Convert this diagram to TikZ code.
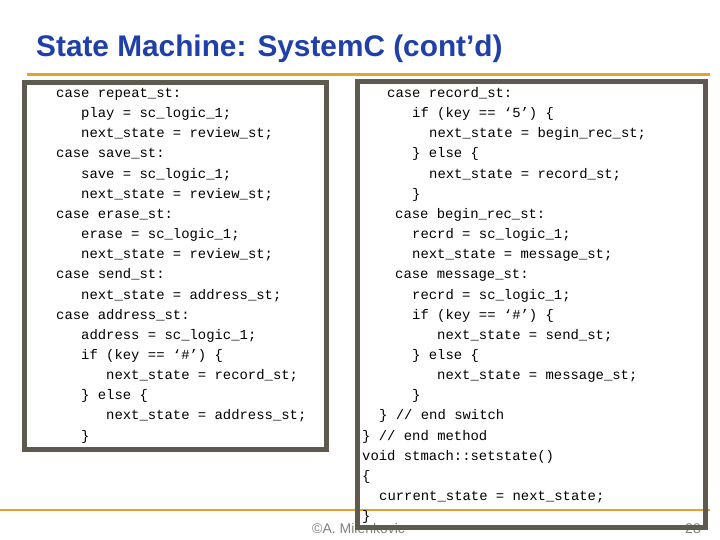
\documentclass[tikz,border=0pt]{standalone}
\usepackage{fontspec}
\setmainfont{Liberation Sans}
\newfontfamily\codefont{Liberation Mono}
\definecolor{ttl}{HTML}{1F40A8}
\definecolor{org}{HTML}{E8A030}
\definecolor{brd}{HTML}{5F5A50}
\begin{document}
\begin{tikzpicture}[x=1pt,y=-1pt,
  code/.style={anchor=base west,inner sep=0pt,font=\codefont\fontsize{13.9}{14}\selectfont},
  boxst/.style={draw=brd,line width=5pt}]
\useasboundingbox (0,0) rectangle (720,540);
\fill[white] (0,0) rectangle (720,540);
\node[anchor=base west,inner sep=0pt,text=ttl,font=\bfseries\fontsize{29.8}{32}\selectfont] (title) at (36,57) {State Machine: SystemC (cont’d)};
\fill[white] (24.5,82.5) rectangle (326.5,449.5);
\fill[white] (357.5,81.5) rectangle (705.5,527.5);
\node[anchor=base west,inner sep=0pt,text=gray,font=\fontsize{14}{14}\selectfont] (foot) at (312,533) {©A. Milenkovic};
\node[anchor=base east,inner sep=0pt,text=gray,font=\fontsize{14}{14}\selectfont] (pg) at (701,533) {28};
\coordinate (o1) at (27,75); \coordinate (o2) at (710,75);
\coordinate (o3) at (0,510); \coordinate (o4) at (710,510);
\draw[org,line width=3pt] (o1) -- (o2);
\draw[org,line width=2.5pt] (o3) -- (o4);
\draw[boxst] (24.5,82.5) rectangle (326.5,449.5);
\draw[boxst] (357.5,81.5) rectangle (705.5,527.5);
% left code
\foreach \x/\t [count=\i from 0] in {
56/{case repeat\_st:},
81/{play = sc\_logic\_1;},
81/{next\_state = review\_st;},
56/{case save\_st:},
81/{save = sc\_logic\_1;},
81/{next\_state = review\_st;},
56/{case erase\_st:},
81/{erase = sc\_logic\_1;},
81/{next\_state = review\_st;},
56/{case send\_st:},
81/{next\_state = address\_st;},
56/{case address\_st:},
81/{address = sc\_logic\_1;},
81/{if (key == ‘\#’) \{},
106/{next\_state = record\_st;},
81/{\} else \{},
106/{next\_state = address\_st;},
81/{\}}}
  \node[code] (l\i) at (\x,{97.5+20.15*\i}) {\t};
% right code
\foreach \x/\t [count=\i from 0] in {
387/{case record\_st:},
412/{if (key == ‘5’) \{},
429/{next\_state = begin\_rec\_st;},
412/{\} else \{},
429/{next\_state = record\_st;},
412/{\}},
395/{case begin\_rec\_st:},
412/{recrd = sc\_logic\_1;},
412/{next\_state = message\_st;},
395/{case message\_st:},
412/{recrd = sc\_logic\_1;},
412/{if (key == ‘\#’) \{},
437/{next\_state = send\_st;},
412/{\} else \{},
437/{next\_state = message\_st;},
412/{\}},
379/{\} // end switch},
362/{\} // end method},
362/{void stmach::setstate()},
362/{\{},
379/{current\_state = next\_state;},
362/{\}}}
  \node[code] (r\i) at (\x,{97.5+20.15*\i}) {\t};
\end{tikzpicture}
\end{document}
